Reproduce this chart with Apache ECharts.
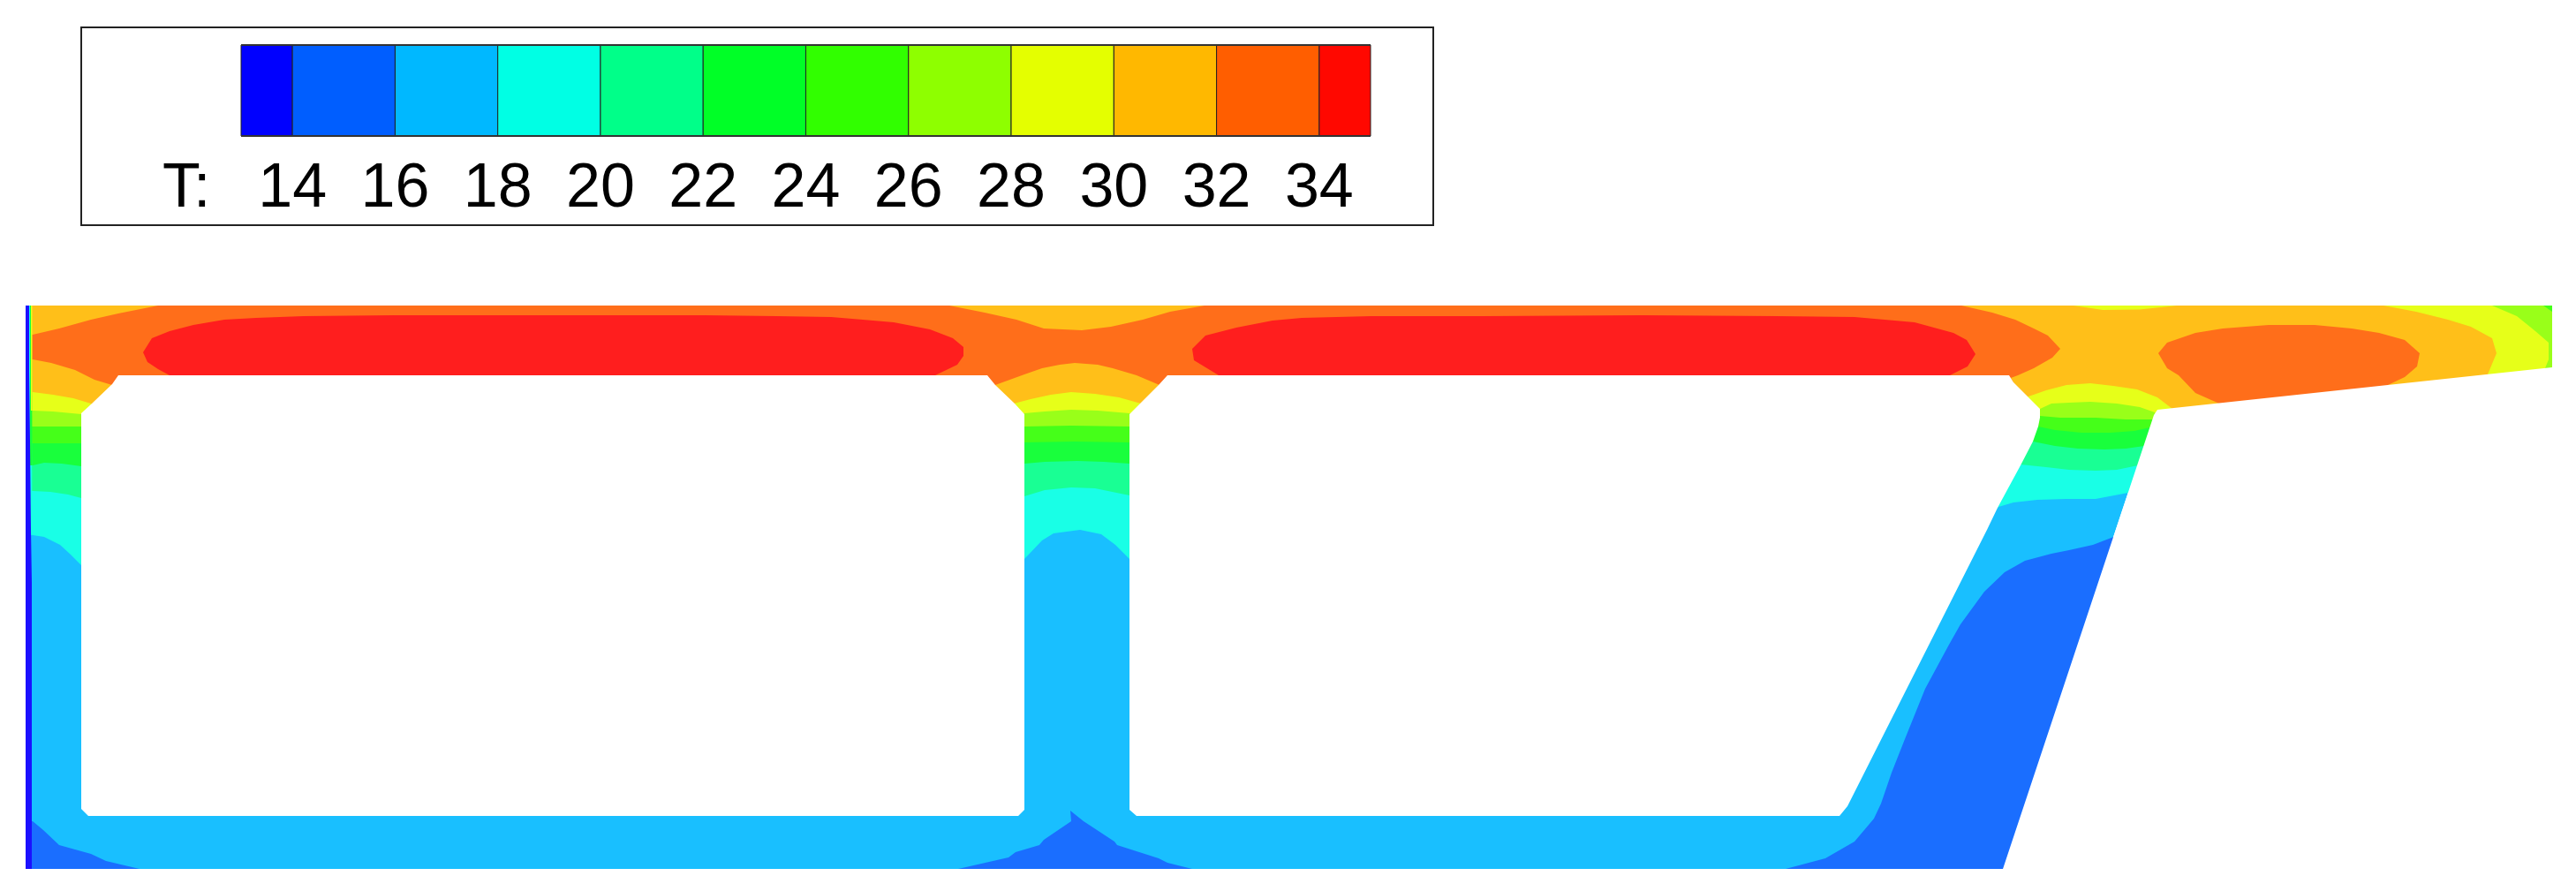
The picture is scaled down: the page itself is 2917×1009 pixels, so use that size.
<!DOCTYPE html>
<html>
<head>
<meta charset="utf-8">
<title>T</title>
<style>
  html, body { margin: 0; padding: 0; background: #fff; }
  #chart { width: 2917px; height: 1009px; }
</style>
<script src="https://cdn.jsdelivr.net/npm/echarts@6/dist/echarts.min.js"></script>
</head>
<body>
<div id="chart"></div>
<script>
// colour legend: bands between the T levels
const legendLow = [13, 14, 16, 18, 20, 22, 24, 26, 28, 30, 32, 34]
const legendHigh = [14, 16, 18, 20, 22, 24, 26, 28, 30, 32, 34, 35]
const legendColors = ['#0000FF', '#005EFF', '#00B8FF', '#00FFE4', '#00FF89', '#00FF27', '#31FF00', '#8EFF00', '#E4FF00', '#FFB800', '#FF5E00', '#FF0800']
const tickLabels = [14, 16, 18, 20, 22, 24, 26, 28, 30, 32, 34]

// bridge section, in section units
const sectionOutline = [[29, 346], [2890, 346], [2890, 416], [2443, 464], [2439, 470], [2268, 984], [29, 984]]
const cellLeft = [[92, 468], [104, 457], [127, 435], [134, 425], [1118, 425], [1127, 436], [1149, 457], [1160, 469], [1160, 917], [1153, 924], [100, 924], [92, 916]]
const cellRight = [[1279, 469], [1291, 457], [1312, 436], [1322, 425], [2275, 425], [2280, 433], [2296, 449], [2310, 463], [2310, 473], [2308, 483], [2302, 500], [2288, 527], [2262, 575], [2250, 600], [2092, 913], [2083, 924], [1287, 924], [1279, 917]]
const outsideRight = [[2890, 340], [2890, 416], [2443, 464], [2439, 470], [2268, 984], [2917, 984], [2917, 340]]

// iso-T regions (parts running through the cells get covered later)
const below16Corner = [[30, 930], [37, 930], [49, 940], [67, 957], [103, 967], [120, 975], [158, 984], [30, 984]]
const below16Centre = [[1085, 984], [1142, 971], [1150, 965], [1177, 957], [1182, 951], [1213, 930], [1212, 918], [1227, 930], [1262, 953], [1265, 957], [1312, 972], [1322, 977], [1350, 984]]
const below16Web = [[2396, 607], [2370, 617], [2343, 623], [2323, 627], [2293, 635], [2270, 648], [2247, 670], [2220, 707], [2207, 730], [2180, 780], [2157, 837], [2142, 875], [2130, 910], [2122, 927], [2100, 953], [2067, 972], [2022, 984], [2300, 984], [2420, 607]]
const above18 = [[30, 606], [37, 606], [50, 608], [68, 617], [80, 628], [92, 640], [100, 650], [1150, 650], [1160, 633], [1180, 612], [1193, 604], [1223, 600], [1247, 605], [1263, 617], [1279, 633], [1290, 650], [2250, 590], [2263, 574], [2280, 569], [2307, 566], [2340, 565], [2373, 565], [2410, 558], [2430, 558], [2900, 558], [2900, 346], [30, 346]]
const above20 = [[30, 556], [37, 556], [57, 557], [77, 560], [92, 564], [100, 570], [1150, 570], [1160, 562], [1183, 555], [1213, 552], [1240, 553], [1279, 561], [1290, 570], [2275, 535], [2288, 526], [2317, 529], [2343, 532], [2373, 533], [2397, 532], [2421, 527], [2445, 527], [2900, 527], [2900, 346], [30, 346]]
const above22 = [[30, 527], [37, 527], [50, 524], [70, 525], [92, 528], [100, 535], [1150, 535], [1160, 525], [1183, 523], [1220, 522], [1250, 523], [1279, 525], [1290, 535], [2290, 510], [2302, 500], [2327, 505], [2353, 508], [2383, 509], [2407, 508], [2428, 505], [2445, 505], [2900, 505], [2900, 346], [30, 346]]
const above24 = [[30, 502], [92, 502], [100, 510], [1150, 510], [1160, 501], [1217, 500], [1279, 501], [1290, 510], [2295, 490], [2308, 483], [2327, 487], [2357, 490], [2390, 490], [2417, 488], [2435, 484], [2445, 484], [2900, 484], [2900, 346], [30, 346]]
const above26 = [[30, 483], [92, 483], [100, 490], [1150, 490], [1160, 483], [1213, 482], [1279, 483], [1290, 490], [2300, 480], [2310, 471], [2333, 473], [2373, 473], [2407, 475], [2438, 475], [2445, 480], [2900, 416], [2890, 353], [2880, 346], [30, 346]]
const above28 = [[30, 465], [37, 465], [60, 466], [92, 469], [100, 475], [1150, 475], [1160, 468], [1183, 466], [1213, 464], [1243, 465], [1279, 468], [1290, 475], [2300, 470], [2310, 463], [2323, 457], [2343, 456], [2367, 455], [2397, 457], [2423, 461], [2440, 467], [2445, 475], [2882, 425], [2882, 417], [2886, 407], [2886, 388], [2871, 375], [2850, 358], [2822, 346], [30, 346]]
const above30 = [[30, 444], [37, 444], [60, 447], [83, 451], [103, 457], [110, 465], [1140, 465], [1148, 457], [1167, 452], [1190, 447], [1213, 444], [1240, 446], [1267, 450], [1292, 457], [1300, 465], [2285, 455], [2297, 449], [2317, 442], [2340, 436], [2367, 434], [2393, 437], [2420, 441], [2443, 450], [2460, 463], [2465, 470], [2817, 430], [2817, 424], [2827, 400], [2822, 383], [2798, 370], [2772, 362], [2736, 353], [2699, 346], [30, 346]]
const deckPatch28 = [[2348, 346], [2381, 351], [2423, 350.5], [2465, 346]]
const above32 = [[30, 379], [37, 379], [67, 372], [103, 362], [134, 355], [179, 346], [1075, 346], [1115, 354], [1151, 362], [1182, 372], [1225, 374], [1258, 370], [1294, 362], [1325, 353], [1364, 346], [2221, 346], [2256, 354], [2282, 362], [2303, 372], [2319, 380], [2333, 395], [2324, 405], [2303, 417], [2285, 425], [2277, 428], [2280, 433], [1330, 440], [1313, 436], [1287, 425], [1260, 417], [1243, 413], [1217, 411], [1200, 413], [1180, 417], [1160, 424], [1127, 436], [1110, 440], [140, 440], [127, 436], [107, 430], [85, 419], [58, 411], [37, 407], [30, 407]]
const above32Deck = [[2444, 400], [2454, 388], [2486, 377], [2517, 372], [2569, 368], [2621, 368], [2663, 372], [2694, 377], [2723, 385], [2740, 400], [2737, 415], [2723, 427], [2704, 436], [2704, 445], [2513, 465], [2513, 457], [2486, 445], [2467, 425], [2454, 417]]
const above34Left = [[192, 425], [179, 418], [167, 410], [162, 399], [172, 383], [192, 375], [219, 368], [254, 362], [290, 360], [344, 358], [446, 357], [491, 357], [700, 357], [798, 357], [879, 358], [941, 359], [977, 362], [1012, 365], [1053, 373], [1079, 383], [1091, 393], [1091, 403], [1084, 413], [1059, 425]]
const above34Right = [[1380, 425], [1352, 408], [1350, 395], [1365, 380], [1400, 371], [1441, 363], [1474, 360], [1553, 358], [1681, 358], [1859, 357], [2012, 358], [2100, 359], [2168, 365], [2212, 377], [2227, 385], [2237, 401], [2228, 415], [2208, 425]]

// thin cold strip along the left face
const wall18 = [[32, 346], [35.5, 346], [36.5, 606], [32, 606]]
const wall22 = [[34, 346], [36, 346], [36.5, 527], [34, 527]]
const wall28 = [[35, 346], [36.5, 346], [36.5, 465], [35, 465]]
const wallCold = [[29, 346], [33, 346], [33, 420], [34, 500], [35, 600], [36, 660], [36, 984], [29, 984]]

const WHITE = '#FFFFFF'
const paintOrder = [
  [sectionOutline, '#19BFFF'],
  [below16Corner, '#1A6EFF'],
  [below16Centre, '#1A6EFF'],
  [below16Web, '#1A6EFF'],
  [above18, '#19FFE6'],
  [above20, '#19FF94'],
  [above22, '#19FF3C'],
  [above24, '#45FF19'],
  [above26, '#99FF19'],
  [above28, '#E6FF19'],
  [above30, '#FFBF19'],
  [deckPatch28, '#E6FF19'],
  [above32, '#FF6E1A'],
  [above32Deck, '#FF6E1A'],
  [above34Left, '#FF1E1E'],
  [above34Right, '#FF1E1E'],
  [wall18, '#19FFE6'],
  [wall22, '#19FF3C'],
  [wall28, '#E6FF19'],
  [wallCold, '#1B10FF'],
  [cellLeft, WHITE],
  [cellRight, WHITE],
  [outsideRight, WHITE]
]

const chart = echarts.init(document.getElementById('chart'), null, { renderer: 'canvas' })

chart.setOption({
  animation: false,
  backgroundColor: WHITE,
  grid: [
    { left: 0, top: 0, width: 2917, height: 1009 },
    { left: 273, top: 51, width: 1279, height: 103 }
  ],
  xAxis: [
    { type: 'value', gridIndex: 0, min: 0, max: 2917, show: false },
    {
      type: 'value',
      gridIndex: 1,
      min: 13,
      max: 35,
      splitLine: { show: false },
      axisLine: { show: false },
      axisTick: { show: false },
      axisLabel: {
        customValues: tickLabels,
        margin: 26,
        color: '#000',
        fontFamily: 'Liberation Sans',
        fontSize: 70
      }
    }
  ],
  yAxis: [
    { type: 'value', gridIndex: 0, min: 0, max: 1009, inverse: true, show: false },
    { type: 'value', gridIndex: 1, min: 0, max: 1, show: false }
  ],
  graphic: [
    {
      type: 'rect',
      silent: true,
      shape: { x: 92, y: 31, width: 1531, height: 224 },
      style: { fill: 'none', stroke: '#222', lineWidth: 2 }
    },
    {
      type: 'text',
      silent: true,
      x: 184,
      y: 180,
      style: { text: 'T:', fill: '#000', font: '70px "Liberation Sans"' }
    },
    {
      type: 'line',
      silent: true,
      z: 10,
      shape: { x1: 273, y1: 51, x2: 1552, y2: 51 },
      style: { stroke: '#333', lineWidth: 2 }
    },
    {
      type: 'line',
      silent: true,
      z: 10,
      shape: { x1: 273, y1: 154, x2: 1552, y2: 154 },
      style: { stroke: '#333', lineWidth: 2 }
    }
  ],
  series: [
    {
      type: 'custom',
      name: 'T contours',
      xAxisIndex: 0,
      yAxisIndex: 0,
      silent: true,
      clip: false,
      data: paintOrder.map((item, i) => [i]),
      renderItem(params, api) {
        const item = paintOrder[params.dataIndex]
        return {
          type: 'polygon',
          shape: { points: item[0].map((p) => api.coord(p)) },
          style: { fill: item[1] }
        }
      }
    },
    {
      type: 'custom',
      name: 'T legend',
      xAxisIndex: 1,
      yAxisIndex: 1,
      silent: true,
      data: legendLow.map((low, i) => [low, legendHigh[i]]),
      renderItem(params, api) {
        const a = api.coord([api.value(0), 1])
        const b = api.coord([api.value(1), 0])
        return {
          type: 'rect',
          shape: { x: a[0], y: a[1], width: b[0] - a[0], height: b[1] - a[1] },
          style: { fill: legendColors[params.dataIndex], stroke: '#222', lineWidth: 1 }
        }
      }
    }
  ]
})
</script>
</body>
</html>
